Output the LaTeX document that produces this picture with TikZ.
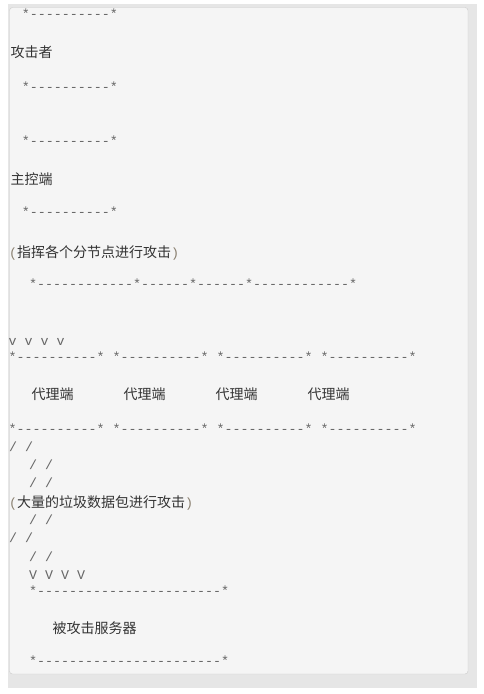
\documentclass[tikz,border=0pt]{standalone}
\usepackage{fontspec}
\setmonofont{Liberation Mono}
\newfontfamily\cjk{Noto Sans CJK SC}
\definecolor{asciicol}{HTML}{666666}
\definecolor{cjkcol}{HTML}{333333}
\definecolor{parencol}{HTML}{8A8070}
\definecolor{framegray}{HTML}{E6E6E6}
\definecolor{boxfill}{HTML}{F5F5F5}
\definecolor{boxborder}{HTML}{CCCCCC}
\newcommand{\monop}[1]{{\ttfamily\fontsize{13.33}{16}\selectfont\color{parencol}#1}}
\begin{document}
\begin{tikzpicture}[x=1pt,y=-1pt,
  asc/.style={anchor=base west,inner sep=0pt,text=asciicol,font=\ttfamily\fontsize{13.33}{16}\selectfont},
  cjkt/.style={anchor=base west,inner sep=0pt,text=cjkcol,font=\cjk\fontsize{14}{16}\selectfont}]
\useasboundingbox (0,0) rectangle (483,694);
\fill[white] (0,0) rectangle (483,694);
\fill[framegray] (8,4) rectangle (477,688);
\draw[boxborder,fill=boxfill,rounded corners=3pt] (9.5,7.5) rectangle (468,674);
% attacker
\node[asc] (l1) at (21.7,18.5) {*----------*};
\node[cjkt] (attacker) at (10.5,57) {攻击者};
\node[asc] (l3) at (21.7,91.5) {*----------*};
% master
\node[asc] (l4) at (21.7,145.5) {*----------*};
\node[cjkt] (master) at (10.5,184) {主控端};
\node[asc] (l6) at (21.7,216.5) {*----------*};
\node[cjkt] (cmd) at (9,257) {\monop{(}指挥各个分节点进行攻击\monop{)}};
\node[asc] (l8) at (29,288.5) {*------------*------*------*------------*};
\node[asc] (l9) at (8.5,345.5) {v v v v};
\node[asc] (l10) at (8.5,361.5) {*----------* *----------* *----------* *----------*};
\node[cjkt] (agent1) at (31.5,399) {代理端};
\node[cjkt] (agent2) at (123.5,399) {代理端};
\node[cjkt] (agent3) at (215.5,399) {代理端};
\node[cjkt] (agent4) at (307.5,399) {代理端};
\node[asc] (l12) at (8.5,433.5) {*----------* *----------* *----------* *----------*};
\node[asc] (l13) at (9,451.5) {/ /};
\node[asc] (l14) at (29,469.5) {/ /};
\node[asc] (l15) at (29,487.5) {/ /};
\node[cjkt] (flood) at (9,507) {\monop{(}大量的垃圾数据包进行攻击\monop{)}};
\node[asc] (l17) at (29,524.5) {/ /};
\node[asc] (l18) at (9,542.5) {/ /};
\node[asc] (l19) at (29,561.5) {/ /};
\node[asc] (l20) at (29,579.5) {V V V V};
\node[asc] (l21) at (29,595.5) {*-----------------------*};
\node[cjkt] (victim) at (52.5,633) {被攻击服务器};
\node[asc] (l23) at (29,665.5) {*-----------------------*};
\end{tikzpicture}
\end{document}
